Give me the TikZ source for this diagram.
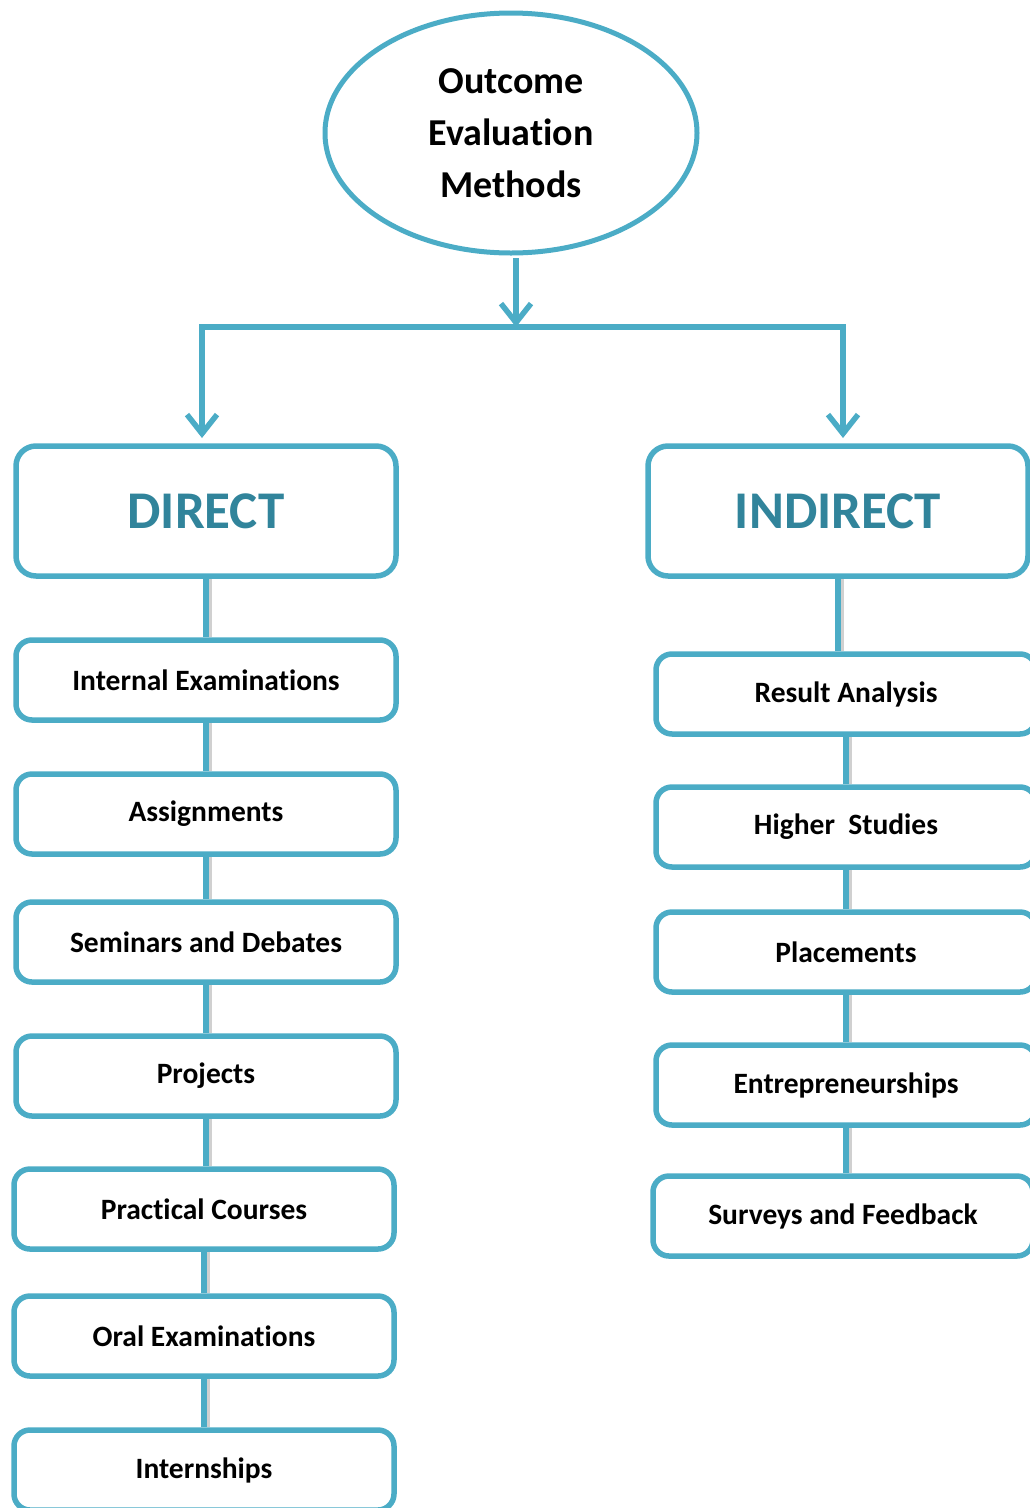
\documentclass[tikz,border=0pt]{standalone}
\usepackage{fontspec}
\setmainfont{Carlito}[Ligatures=NoCommon]
\usetikzlibrary{shapes.geometric,arrows.meta}
\definecolor{edge}{HTML}{4BACC6}
\definecolor{headtxt}{HTML}{31849B}
\definecolor{shade}{HTML}{D0D0D0}
\tikzset{
  topnode/.style={ellipse, draw=edge, line width=5pt, minimum width=372pt, minimum height=240pt, align=center, font=\fontsize{38}{52}\selectfont\bfseries},
  headbox/.style={draw=edge, line width=5.5pt, rounded corners=20pt, minimum width=380pt, minimum height=130pt, text=headtxt, font=\fontsize{53}{60}\selectfont\bfseries},
  itembox/.style={draw=edge, line width=5.5pt, rounded corners=16pt, minimum width=380pt, minimum height=80pt, fill=white, font=\fontsize{29.5}{34}\selectfont\bfseries},
  arrowline/.style={draw=edge, line width=5.5pt, -{Straight Barb[length=19pt,width=30pt,line width=5.5pt]}},
  plainline/.style={draw=edge, line width=5.5pt},
  linkline/.style={draw=edge, line width=6pt},
  linkshadow/.style={draw=shade, line width=4pt},
}
\begin{document}
\begin{tikzpicture}[x=1pt,y=-1pt]
\useasboundingbox (0,0) rectangle (1030,1508);
\clip (0,0) rectangle (1030,1508);
% top ellipse
\node[topnode] (top) at (511,133) {Outcome\\Evaluation\\Methods};
% headers
\node[headbox] (direct) at (206,511) {DIRECT};
\node[headbox] (indirect) at (838,511) {INDIRECT};
% junction coordinates
\coordinate (jtop) at (516,258);
\coordinate (jmid) at (516,327);
\coordinate (jl) at (202,327);
\coordinate (jr) at (843,327);
\coordinate (dl) at (202,438);
\coordinate (dr) at (843,438);
% left items
\node[itembox] (l1) at (206,680) {Internal Examinations};
\node[itembox] (l2) at (206,814) {Assignments};
\node[itembox] (l3) at (206,942) {Seminars and Debates};
\node[itembox] (l4) at (206,1076) {Projects};
\node[itembox] (l5) at (204,1209) {Practical Courses};
\node[itembox] (l6) at (204,1336) {Oral Examinations};
\node[itembox] (l7) at (204,1470) {Internships};
% right items
\node[itembox] (r1) at (846,694) {Result Analysis};
\node[itembox] (r2) at (846,827) {Higher\ \ Studies};
\node[itembox] (r3) at (846,952) {Placements};
\node[itembox] (r4) at (846,1085) {Entrepreneurships};
\node[itembox] (r5) at (843,1216) {Surveys and Feedback};
% arrows from top
\draw[arrowline] (jtop) -- (jmid);
\draw[plainline, line cap=rect] (jl) -- (jr);
\draw[arrowline] (jl) -- (dl);
\draw[arrowline] (jr) -- (dr);
% chain connectors (shadow then line)
\foreach \a/\b in {direct/l1,l1/l2,l2/l3,l3/l4,l4/l5,l5/l6,l6/l7,indirect/r1,r1/r2,r2/r3,r3/r4,r4/r5}{
  \draw[linkshadow] ([xshift=4pt]\a.south) -- ([xshift=4pt]\a.south |- \b.north);
  \draw[linkline] (\a.south) -- (\a.south |- \b.north);
}
\end{tikzpicture}
\end{document}
